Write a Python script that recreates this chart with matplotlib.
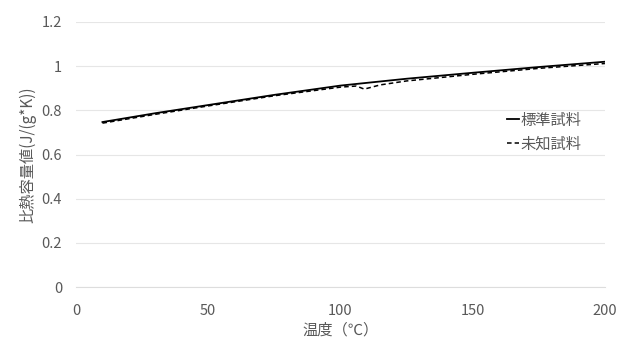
import matplotlib
matplotlib.use('Agg')
import matplotlib.pyplot as plt

plt.rcParams['font.family'] = ['Noto Sans CJK JP', 'DejaVu Sans']

# 標準試料
x_std = [10, 30, 50, 75, 100, 125, 150, 175, 200]
y_std = [0.747, 0.787, 0.824, 0.870, 0.912, 0.943, 0.970, 0.996, 1.020]
# 未知試料
x_unk = [10, 30, 50, 75, 100, 106, 109, 115, 125, 150, 175, 200]
y_unk = [0.742, 0.782, 0.820, 0.866, 0.905, 0.910, 0.896, 0.915, 0.933, 0.963, 0.990, 1.012]

grey = '#595959'

fig = plt.figure(figsize=(6.23, 3.43), dpi=100)
ax = fig.add_axes([0.122, 0.163, 0.849, 0.773])

ax.plot(x_std, y_std, color='black', lw=1.3, label='標準試料')
ax.plot(x_unk, y_unk, color='black', lw=1.1, ls=(0, (3, 2)), label='未知試料')

ax.set_xlim(0, 200)
ax.set_ylim(0, 1.2)
ax.set_xticks([0, 50, 100, 150, 200])
ax.set_yticks([0, 0.2, 0.4, 0.6, 0.8, 1.0, 1.2])
ax.set_yticklabels(['0', '0.2', '0.4', '0.6', '0.8', '1', '1.2'])
ax.grid(axis='y', color='#e6e6e6', lw=0.8)
ax.set_axisbelow(True)
for s in ['top', 'right', 'left']:
    ax.spines[s].set_visible(False)
ax.spines['bottom'].set_color('#dddddd')
ax.tick_params(axis='x', length=0, colors=grey, labelsize=10.5, pad=12)
ax.tick_params(axis='y', length=0, colors=grey, labelsize=10.5, pad=10)

ax.set_xlabel('温度（℃）', color=grey, fontsize=11, labelpad=3)
ax.set_ylabel('比熱容量値(J/(g*K))', color=grey, fontsize=11, labelpad=4)

leg = ax.legend(loc='center right', bbox_to_anchor=(0.982, 0.585), frameon=False,
                fontsize=11, handlelength=0.8, handletextpad=0.1,
                labelspacing=0.45)
for t in leg.get_texts():
    t.set_color(grey)

fig.savefig('out.png', dpi=100)
